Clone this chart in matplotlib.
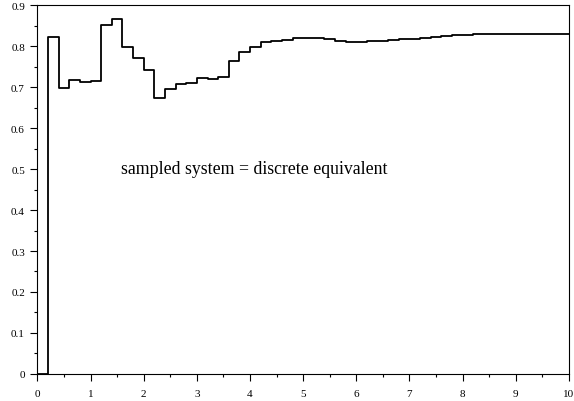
import numpy as np
import matplotlib
matplotlib.use("Agg")
import matplotlib.pyplot as plt
from matplotlib.ticker import MultipleLocator

plt.rcParams['font.family'] = ['Liberation Serif', 'DejaVu Serif']

# sample instants (period 0.2) and held output values
t = [round(0.2 * i, 1) for i in range(51)]
y = [0.0, 0.823, 0.697, 0.716, 0.713, 0.714, 0.851, 0.866, 0.798, 0.770,
     0.741, 0.674, 0.695, 0.708, 0.711, 0.723, 0.719, 0.725, 0.764, 0.785,
     0.798, 0.810, 0.812, 0.815, 0.820, 0.820, 0.819, 0.818, 0.813, 0.811,
     0.811, 0.812, 0.813, 0.815, 0.816, 0.818, 0.820, 0.822, 0.824, 0.826,
     0.827, 0.829, 0.830, 0.830, 0.830, 0.830, 0.830, 0.830, 0.830, 0.830,
     0.830]

label = "sampled system = discrete equivalent"

fig = plt.figure(figsize=(5.74, 4.02), dpi=100)
ax = fig.add_axes([0.0653, 0.0672, 0.9257, 0.9178])

ax.step(t, y, where='post', color='black', linewidth=1.3)

ax.set_xlim(0, 10)
ax.set_ylim(0, 0.9)
ax.xaxis.set_major_locator(MultipleLocator(1))
ax.xaxis.set_minor_locator(MultipleLocator(0.5))
ax.yaxis.set_major_locator(MultipleLocator(0.1))
ax.yaxis.set_minor_locator(MultipleLocator(0.05))
ax.xaxis.set_major_formatter(plt.FuncFormatter(lambda v, p: f"{v:g}"))
ax.yaxis.set_major_formatter(plt.FuncFormatter(lambda v, p: f"{v:g}"))
ax.tick_params(which='major', direction='out', length=5, width=0.8,
               labelsize=8)
ax.tick_params(axis='x', which='major', pad=6)
ax.tick_params(axis='y', which='major', pad=4)
ax.tick_params(which='minor', direction='out', length=2.5, width=0.8)
for s in ax.spines.values():
    s.set_linewidth(0.8)

ax.text(1.57, 0.49, label, fontsize=12.8, ha='left', va='baseline')

fig.savefig("out.png", dpi=100)
